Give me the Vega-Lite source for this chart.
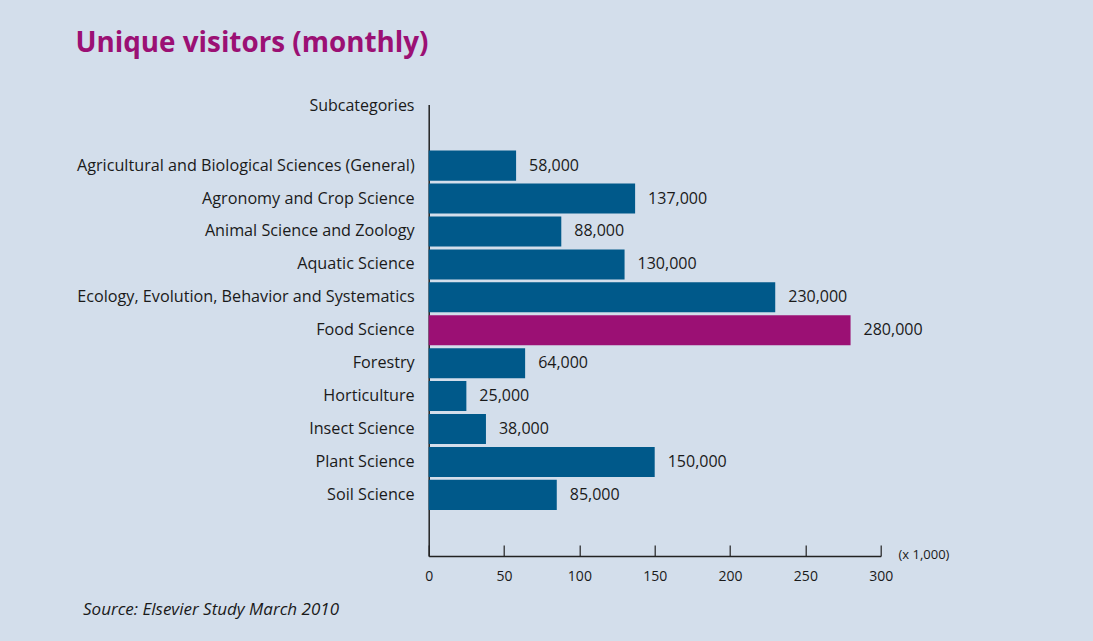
{
  "$schema": "https://vega.github.io/schema/vega-lite/v6.json",
  "autosize": {"type": "none"},
  "width": 452,
  "height": 451.5,
  "padding": {"left": 428.7, "top": 104.5, "right": 212.3, "bottom": 85},
  "background": "#d3deeb",
  "config": {
    "font": "Open Sans",
    "view": {"stroke": null},
    "axis": {"labelFont": "Open Sans", "titleFont": "Open Sans"}
  },
  "title": {
    "text": "Source: Elsevier Study March 2010",
    "orient": "bottom",
    "anchor": "start",
    "frame": "group",
    "dx": -345.7,
    "offset": 19,
    "baseline": "top",
    "font": "Open Sans",
    "fontSize": 17,
    "fontStyle": "italic",
    "fontWeight": "normal",
    "color": "#1a1a1a"
  },
  "data": {
    "values": [
      {"category": "Agricultural and Biological Sciences (General)", "visitors": 58000},
      {"category": "Agronomy and Crop Science", "visitors": 137000},
      {"category": "Animal Science and Zoology", "visitors": 88000},
      {"category": "Aquatic Science", "visitors": 130000},
      {"category": "Ecology, Evolution, Behavior and Systematics", "visitors": 230000},
      {"category": "Food Science", "visitors": 280000},
      {"category": "Forestry", "visitors": 64000},
      {"category": "Horticulture", "visitors": 25000},
      {"category": "Insect Science", "visitors": 38000},
      {"category": "Plant Science", "visitors": 150000},
      {"category": "Soil Science", "visitors": 85000}
    ]
  },
  "resolve": {"axis": {"x": "independent"}},
  "layer": [
    {
      "mark": {"type": "bar"},
      "encoding": {
        "y": {
          "field": "category",
          "type": "nominal",
          "sort": null,
          "scale": {
            "domain": ["_top", "Agricultural and Biological Sciences (General)", "Agronomy and Crop Science", "Animal Science and Zoology", "Aquatic Science", "Ecology, Evolution, Behavior and Systematics", "Food Science", "Forestry", "Horticulture", "Insect Science", "Plant Science", "Soil Science", "_bottom"],
            "paddingInner": 0.088,
            "paddingOuter": 0.4
          },
          "axis": {
            "title": "Subcategories",
            "titleAngle": 0,
            "titleAlign": "right",
            "titleBaseline": "alphabetic",
            "titleX": -14.7,
            "titleY": 6,
            "titleFontSize": 16,
            "titleFontWeight": "normal",
            "titleColor": "#1a1a1a",
            "labelExpr": "datum.value == '_top' || datum.value == '_bottom' ? '' : datum.value",
            "labelFontSize": 16.2,
            "labelColor": "#1a1a1a",
            "labelPadding": 14.5,
            "ticks": false,
            "tickSize": 0,
            "domainColor": "#222222",
            "domainWidth": 1.5,
            "labelLimit": 500
          }
        },
        "x": {
          "field": "visitors",
          "type": "quantitative",
          "scale": {"domain": [0, 300000], "nice": false},
          "axis": {
            "values": [0, 50000, 100000, 150000, 200000, 250000, 300000],
            "labelExpr": "format(datum.value / 1000, 'd')",
            "labelFlush": false,
            "labelOverlap": false,
            "title": "(x 1,000)",
            "titleAngle": 0,
            "titleAlign": "left",
            "titleBaseline": "middle",
            "titleX": 469.3,
            "titleY": -2,
            "titleFontSize": 13,
            "titleFontWeight": "normal",
            "titleColor": "#1a1a1a",
            "labelFontSize": 14,
            "labelColor": "#1a1a1a",
            "labelPadding": 24,
            "tickSize": -11,
            "tickColor": "#222222",
            "tickWidth": 1.2,
            "domainColor": "#222222",
            "domainWidth": 1.5,
            "grid": false
          }
        },
        "color": {
          "condition": {"test": "datum.category === 'Food Science'", "value": "#9b1074"},
          "value": "#00598a"
        }
      }
    },
    {
      "mark": {"type": "text", "align": "left", "baseline": "middle", "dx": 13, "fontSize": 16, "color": "#1a1a1a"},
      "encoding": {
        "y": {"field": "category", "type": "nominal", "sort": null},
        "x": {
          "field": "visitors",
          "type": "quantitative",
          "axis": {
            "orient": "top",
            "title": "Unique visitors (monthly)",
            "titleAngle": 0,
            "titleAlign": "left",
            "titleBaseline": "alphabetic",
            "titleX": -353.7,
            "titleY": -53.5,
            "titleFontSize": 27.8,
            "titleFontWeight": "bold",
            "titleColor": "#9b1074",
            "domain": false,
            "ticks": false,
            "labels": false,
            "grid": false
          }
        },
        "text": {"field": "visitors", "type": "quantitative", "format": ","}
      }
    }
  ]
}
